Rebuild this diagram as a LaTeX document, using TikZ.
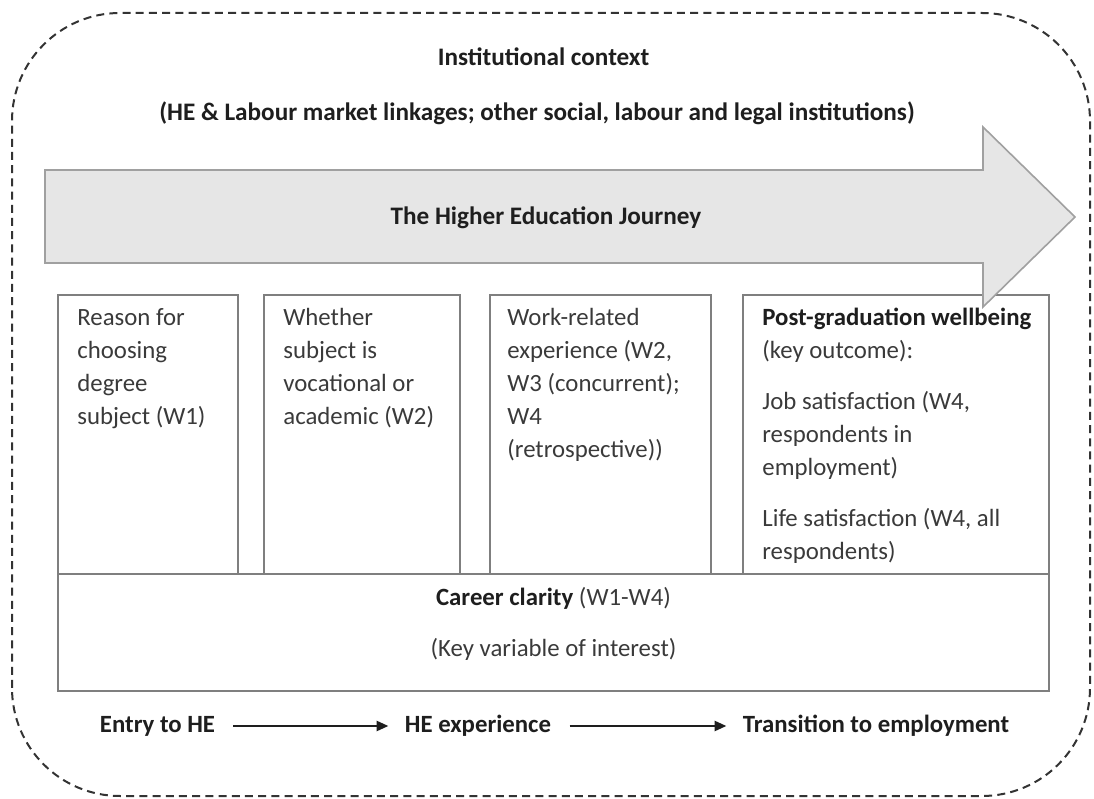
\documentclass[tikz,border=0pt]{standalone}
\usepackage{fontspec}
\setmainfont{Carlito}
\usetikzlibrary{arrows.meta}

\definecolor{linegray}{HTML}{7F7F7F}
\definecolor{edgegray}{HTML}{333333}
\definecolor{arrowfill}{HTML}{E6E6E6}
\definecolor{arrowline}{HTML}{A0A0A0}
\definecolor{inkgray}{HTML}{3A3A3A}
\definecolor{inkdark}{HTML}{1E1E1E}

\tikzset{
  stage/.style={draw=linegray,line width=1bp,anchor=north west,inner sep=0pt,minimum height=139.5bp},
  stagetext/.style={anchor=north west,align=left,inner xsep=10bp,inner ysep=7bp,text=inkgray,
    font=\fontsize{12.4bp}{16.5bp}\selectfont},
  heading/.style={text=inkdark,font=\bfseries\fontsize{12.6bp}{16bp}\selectfont},
  phase/.style={inner sep=0pt,text=inkdark,font=\bfseries\fontsize{12.4bp}{16bp}\selectfont},
  step arrow/.style={-{Triangle[length=6bp,width=5bp]},line width=1.3bp,inkdark,
    shorten <=9bp,shorten >=8bp}
}

\begin{document}
\begin{tikzpicture}
  \useasboundingbox (0bp,0bp) rectangle (547bp,399.5bp);
  %% context frame
  \draw[edgegray,line width=1bp,dash pattern=on 4bp off 2.6bp,rounded corners=54bp]
    (6bp,1.5bp) rectangle (545bp,393bp);
  \node (Context) at (271.75bp,371bp) [heading] {Institutional context};
  \node (Links) at (268.5bp,343bp) [heading] {(HE \& Labour market linkages; other social, labour and legal institutions)};
  %% stages along the journey
  \node (Reason) at (28.5bp,252.5bp) [stage,minimum width=90bp] {};
  \node (Subject) at (131.5bp,252.5bp) [stage,minimum width=98bp] {};
  \node (Work) at (244.5bp,252.5bp) [stage,minimum width=110.5bp] {};
  \node (Wellbeing) at (371bp,252.5bp) [stage,minimum width=153bp] {};
  \node (Clarity) at (28.5bp,113bp) [stage,minimum width=495.5bp,minimum height=58.5bp] {};
  \node (ReasonText) at (Reason.north west) [stagetext] {Reason for\\choosing\\degree\\subject (W1)};
  \node (SubjectText) at (Subject.north west) [stagetext] {Whether\\subject is\\vocational or\\academic (W2)};
  \node (WorkText) at (Work.north west) [stagetext,inner xsep=9bp] {Work-related\\experience (W2,\\W3 (concurrent);\\W4\\(retrospective))};
  \node (WellbeingText) at (Wellbeing.north west) [stagetext]
    {\textcolor{inkdark}{\bfseries Post-graduation wellbeing}\\(key outcome):\\[9bp]
     Job satisfaction (W4,\\respondents in\\employment)\\[9bp]
     Life satisfaction (W4, all\\respondents)};
  \node (ClarityText) at (Clarity.north) [stagetext,anchor=north,align=center,inner ysep=7bp]
    {\textcolor{inkdark}{\bfseries Career clarity} (W1-W4)\\[9bp](Key variable of interest)};
  %% journey arrow
  \draw[fill=arrowfill,draw=arrowline,line width=0.8bp]
    (22.5bp,314.5bp) -- (491.5bp,314.5bp) -- (491.5bp,336bp) -- (537.5bp,291bp)
    -- (491.5bp,246bp) -- (491.5bp,268bp) -- (22.5bp,268bp) -- cycle;
  \node (Journey) at (273bp,290.5bp) [heading] {The Higher Education Journey};
  %% phases
  \node (Entry) at (78.75bp,36.5bp) [phase] {Entry to HE};
  \node (Experience) at (239bp,36.5bp) [phase] {HE experience};
  \node (Transition) at (438bp,36.5bp) [phase] {Transition to employment};
  \draw[step arrow] (Entry) -- (Experience);
  \draw[step arrow] (Experience) -- (Transition);
\end{tikzpicture}
\end{document}
